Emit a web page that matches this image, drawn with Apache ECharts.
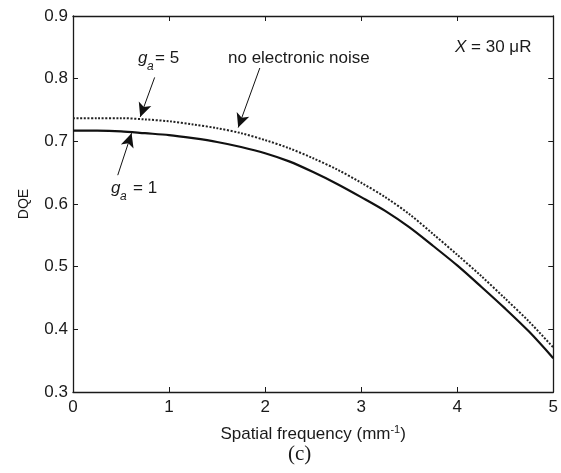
<!DOCTYPE html>
<html>
<head>
<meta charset="utf-8">
<script src="https://cdn.jsdelivr.net/npm/echarts@6/dist/echarts.min.js"></script>
<style>
  html, body { margin: 0; padding: 0; background: #fff; }
  #chart { width: 561px; height: 473px; }
</style>
</head>
<body>
<div id="chart"></div>
<script>
// Spatial frequency samples (mm^-1)
const freq = [0, 0.25, 0.5, 0.75, 1.0, 1.25, 1.5, 1.75, 2.0, 2.25, 2.5,
              2.75, 3.0, 3.25, 3.5, 3.75, 4.0, 4.25, 4.5, 4.75, 5.0];
// DQE with g_a = 1
const dqeGa1 = [0.717, 0.717, 0.716, 0.713, 0.710, 0.705, 0.699, 0.691, 0.681, 0.668, 0.651,
                0.632, 0.611, 0.589, 0.563, 0.533, 0.502, 0.468, 0.433, 0.396, 0.354];
// DQE with g_a = 5 (practically the same as no electronic noise)
const dqeGa5 = [0.737, 0.737, 0.737, 0.735, 0.732, 0.727, 0.721, 0.713, 0.702, 0.689, 0.673,
                0.655, 0.634, 0.611, 0.584, 0.552, 0.519, 0.485, 0.449, 0.412, 0.371];
// Axis ticks
const xTicks = [0, 1, 2, 3, 4, 5];
const yTicks = [0.3, 0.4, 0.5, 0.6, 0.7, 0.8, 0.9];
// Annotation arrows: [start, tip] in data units
const arrows = [
  [[0.85, 0.802], [0.70, 0.739]],
  [[1.945, 0.817], [1.72, 0.722]],
  [[0.466, 0.646], [0.61, 0.713]]
];

const FONT = 'Liberation Sans, Arial, sans-serif';
const INK = '#1a1a1a';

const chart = echarts.init(document.getElementById('chart'), null, { renderer: 'canvas' });

const axisCommon = {
  type: 'value',
  axisLine: { show: true, onZero: false, lineStyle: { color: INK, width: 1.3 } },
  axisTick: { show: true, inside: true, length: 5, lineStyle: { color: INK, width: 1 } },
  splitLine: { show: false }
};

const option = {
  animation: false,
  backgroundColor: '#fff',
  grid: { left: 73, right: 7.5, top: 16, bottom: 81 },
  xAxis: [
    Object.assign({}, axisCommon, {
      position: 'bottom',
      min: xTicks[0], max: xTicks[xTicks.length - 1], interval: 1,
      axisLabel: { color: INK, fontFamily: FONT, fontSize: 17, margin: 7 },
      name: 'Spatial frequency (mm{sup|-1})',
      nameLocation: 'middle',
      nameGap: 32,
      nameTextStyle: {
        color: INK, fontFamily: FONT, fontSize: 17, lineHeight: 20,
        rich: { sup: { fontSize: 11, fontFamily: FONT, color: INK, verticalAlign: 'top', lineHeight: 20 } }
      }
    }),
    Object.assign({}, axisCommon, {
      position: 'top',
      min: xTicks[0], max: xTicks[xTicks.length - 1], interval: 1,
      axisLabel: { show: false }
    })
  ],
  yAxis: [
    Object.assign({}, axisCommon, {
      position: 'left',
      min: yTicks[0], max: yTicks[yTicks.length - 1], interval: 0.1,
      axisLabel: { color: INK, fontFamily: FONT, fontSize: 17, margin: 5,
                   formatter: v => v.toFixed(1) },
      name: 'DQE',
      nameLocation: 'middle',
      nameGap: 42,
      nameRotate: 90,
      nameTextStyle: { color: INK, fontFamily: FONT, fontSize: 14 }
    }),
    Object.assign({}, axisCommon, {
      position: 'right',
      min: yTicks[0], max: yTicks[yTicks.length - 1], interval: 0.1,
      axisLabel: { show: false }
    })
  ],
  series: [
    {
      name: 'g_a = 1',
      type: 'line',
      data: freq.map((f, i) => [f, dqeGa1[i]]),
      showSymbol: false,
      smooth: 0.3,
      lineStyle: { color: '#111', width: 2.2 },
      markLine: {
        silent: true,
        animation: false,
        symbol: ['none', 'arrow'],
        symbolSize: [10, 14],
        label: { show: false },
        lineStyle: { color: '#111', width: 1, type: 'solid' },
        data: arrows.map(a => [{ coord: a[0] }, { coord: a[1] }])
      }
    },
    {
      name: 'g_a = 5',
      type: 'line',
      data: freq.map((f, i) => [f, dqeGa5[i]]),
      showSymbol: false,
      smooth: 0.3,
      lineStyle: { color: '#222', width: 2, type: [2, 1.6] }
    }
  ],
  graphic: [
    // g_a = 5
    { type: 'text', left: 138, top: 50, style: { text: 'g', font: 'italic 17px ' + FONT, fill: INK } },
    { type: 'text', left: 147, top: 61, style: { text: 'a', font: 'italic 12px ' + FONT, fill: INK } },
    { type: 'text', left: 155, top: 50, style: { text: '= 5', font: '17px ' + FONT, fill: INK } },
    // no electronic noise
    { type: 'text', left: 228, top: 50, style: { text: 'no electronic noise', font: '17px ' + FONT, fill: INK } },
    // g_a = 1
    { type: 'text', left: 111, top: 180, style: { text: 'g', font: 'italic 17px ' + FONT, fill: INK } },
    { type: 'text', left: 120, top: 191, style: { text: 'a', font: 'italic 12px ' + FONT, fill: INK } },
    { type: 'text', left: 133, top: 180, style: { text: '= 1', font: '17px ' + FONT, fill: INK } },
    // exposure
    { type: 'text', left: 455, top: 39, style: {
        text: '{i|X} = 30 μR', font: '17px ' + FONT, fill: INK,
        rich: { i: { fontStyle: 'italic', fontSize: 17, fontFamily: FONT, color: INK } } } },
    // panel tag
    { type: 'text', left: 288, top: 444, style: { text: '(c)', font: '21px Liberation Serif, Times New Roman, serif', fill: INK } }
  ]
};

chart.setOption(option);
</script>
</body>
</html>
